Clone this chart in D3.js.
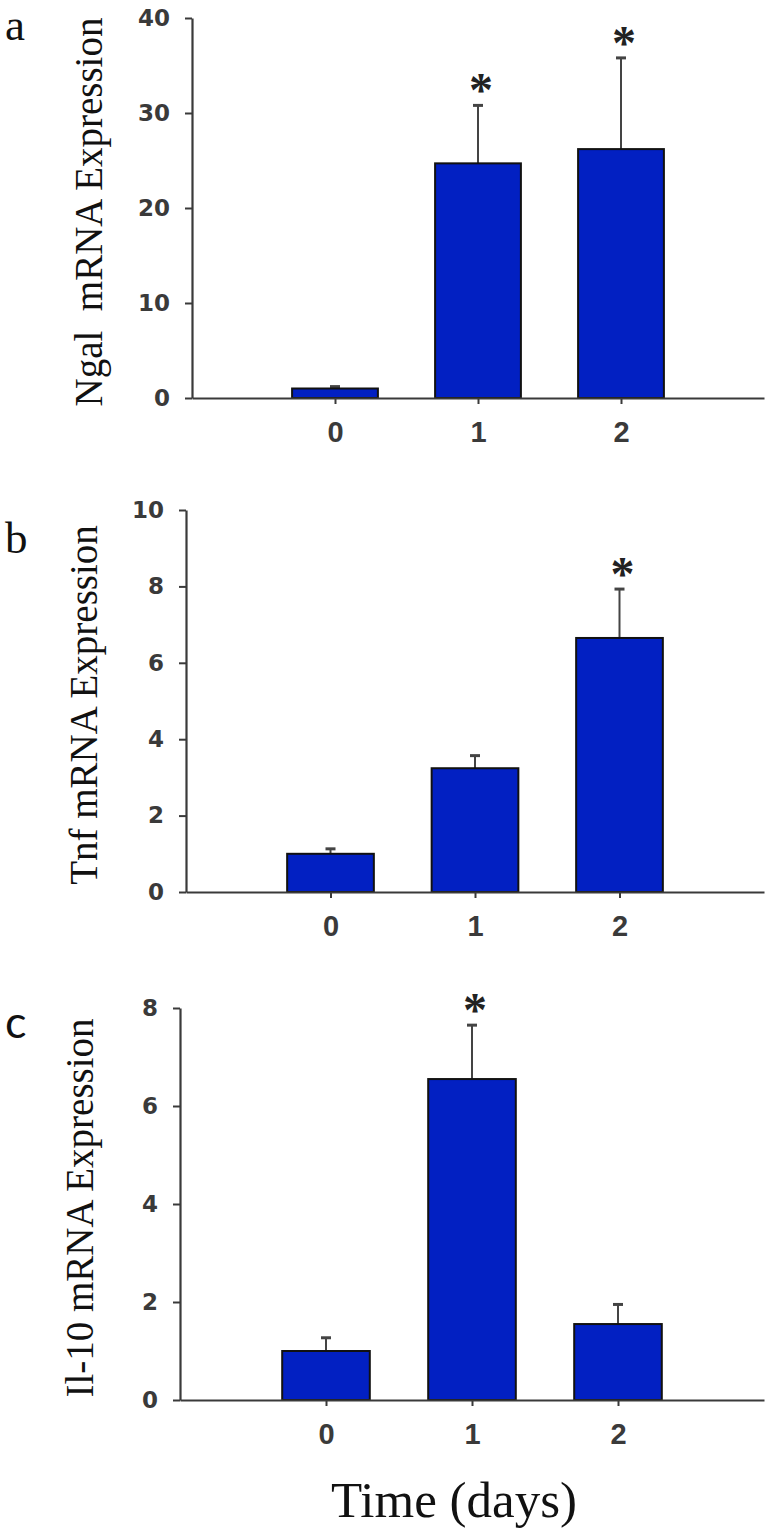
<!DOCTYPE html>
<html>
<head>
<meta charset="utf-8">
<script src="https://cdn.jsdelivr.net/npm/d3@7/dist/d3.min.js"></script>
<style>
  html, body { margin: 0; padding: 0; background: #fff; }
  svg { display: block; }
</style>
</head>
<body>
<svg id="chart" width="776" height="1531"></svg>
<script>
// ---- data ----
const days = ["0", "1", "2"];
const ngalMean = [1.0, 24.7, 26.2];
const ngalErr  = [0.2, 6.1, 9.6];
const ngalSig  = [false, true, true];
const ngalTicks = [0, 10, 20, 30, 40];

const tnfMean = [1.0, 3.24, 6.65];
const tnfErr  = [0.13, 0.33, 1.28];
const tnfSig  = [false, false, true];
const tnfTicks = [0, 2, 4, 6, 8, 10];

const il10Mean = [1.0, 6.55, 1.55];
const il10Err  = [0.27, 1.1, 0.4];
const il10Sig  = [false, true, false];
const il10Ticks = [0, 2, 4, 6, 8];

const panelLetters = ["a", "b", "c"];
const yTitles = ["Ngal\u00A0\u00A0mRNA Expression", "Tnf mRNA Expression", "Il-10 mRNA Expression"];
const xTitle = "Time (days)";

// ---- layout ----
const panels = [
  { mean: ngalMean, err: ngalErr, sig: ngalSig, ticks: ngalTicks, ymax: 40,
    left: 192, right: 764, top: 18, bottom: 398, titleX: 102, letterY: 40, letterFont: "Liberation Serif" },
  { mean: tnfMean, err: tnfErr, sig: tnfSig, ticks: tnfTicks, ymax: 10,
    left: 186, right: 764, top: 510, bottom: 892, titleX: 97, letterY: 553, letterFont: "Liberation Serif" },
  { mean: il10Mean, err: il10Err, sig: il10Sig, ticks: il10Ticks, ymax: 8,
    left: 180, right: 764, top: 1008, bottom: 1400, titleX: 93, letterY: 1038, letterFont: "Lato" }
];

const svg = d3.select("#chart");
const barFill = "#0220c2";
const axisCol = "#3a3a3a";

panels.forEach((p, k) => {
  const g = svg.append("g");
  const x = d3.scaleLinear().domain([-1, 3]).range([p.left, p.right]);
  const y = d3.scaleLinear().domain([0, p.ymax]).range([p.bottom, p.top]);
  const step = x(1) - x(0);
  const bw = step * 0.6;

  const data = days.map((d, i) => ({ day: d, i, m: p.mean[i], e: p.err[i], s: p.sig[i] }));

  // error bars (upper only)
  g.selectAll(".err").data(data).join("line")
    .attr("x1", d => x(d.i)).attr("x2", d => x(d.i))
    .attr("y1", d => y(d.m)).attr("y2", d => y(d.m + d.e))
    .attr("stroke", "#444").attr("stroke-width", 2);
  g.selectAll(".cap").data(data).join("line")
    .attr("x1", d => x(d.i) - 5).attr("x2", d => x(d.i) + 5)
    .attr("y1", d => y(d.m + d.e)).attr("y2", d => y(d.m + d.e))
    .attr("stroke", "#444").attr("stroke-width", 3);

  // bars
  g.selectAll(".bar").data(data).join("rect")
    .attr("x", d => x(d.i) - bw / 2)
    .attr("width", bw)
    .attr("y", d => y(d.m))
    .attr("height", d => y(0) - y(d.m))
    .attr("fill", barFill)
    .attr("stroke", "#111")
    .attr("stroke-width", 2);

  // asterisks
  g.selectAll(".sig").data(data.filter(d => d.s)).join("text")
    .attr("x", d => x(d.i) + 3)
    .attr("y", d => y(d.m + d.e) + 1)
    .attr("text-anchor", "middle")
    .attr("font-family", "Liberation Serif")
    .attr("font-weight", "bold")
    .attr("font-size", 48)
    .attr("fill", "#222")
    .text("*");

  // y axis
  const yAxis = d3.axisLeft(y).tickValues(p.ticks).tickSize(7).tickPadding(15).tickSizeOuter(0);
  const ya = g.append("g").attr("transform", `translate(${p.left},0)`).call(yAxis);
  ya.select(".domain").attr("stroke", axisCol).attr("stroke-width", 2.2);
  ya.selectAll(".tick line").attr("stroke", axisCol).attr("stroke-width", 2);
  ya.selectAll(".tick text")
    .attr("font-family", "DejaVu Sans").attr("font-weight", "bold")
    .attr("font-size", 23).attr("fill", "#3a3a3a");

  // x axis
  const xAxis = d3.axisBottom(x).tickValues([0, 1, 2]).tickFormat(v => days[v])
    .tickSize(6).tickPadding(17).tickSizeOuter(0);
  const xa = g.append("g").attr("transform", `translate(0,${p.bottom})`).call(xAxis);
  xa.select(".domain").attr("stroke", axisCol).attr("stroke-width", 2.2);
  xa.selectAll(".tick line").attr("stroke", axisCol).attr("stroke-width", 2);
  xa.selectAll(".tick text")
    .attr("font-family", "Liberation Sans").attr("font-weight", "bold")
    .attr("font-size", 29).attr("fill", "#3a3a3a");

  // y title
  g.append("text")
    .attr("transform", `translate(${p.titleX},${(p.top + p.bottom) / 2 + 4}) rotate(-90)`)
    .attr("text-anchor", "middle")
    .attr("font-family", "Liberation Serif")
    .attr("font-size", 39)
    .attr("fill", "#111")
    .text(yTitles[k]);

  // panel letter
  g.append("text")
    .attr("x", 5).attr("y", p.letterY)
    .attr("font-family", p.letterFont)
    .attr("font-size", 45)
    .attr("fill", "#111")
    .text(panelLetters[k]);
});

// x title
svg.append("text")
  .attr("x", 454).attr("y", 1517)
  .attr("text-anchor", "middle")
  .attr("font-family", "Liberation Serif")
  .attr("font-size", 51)
  .attr("fill", "#111")
  .text(xTitle);
</script>
</body>
</html>
